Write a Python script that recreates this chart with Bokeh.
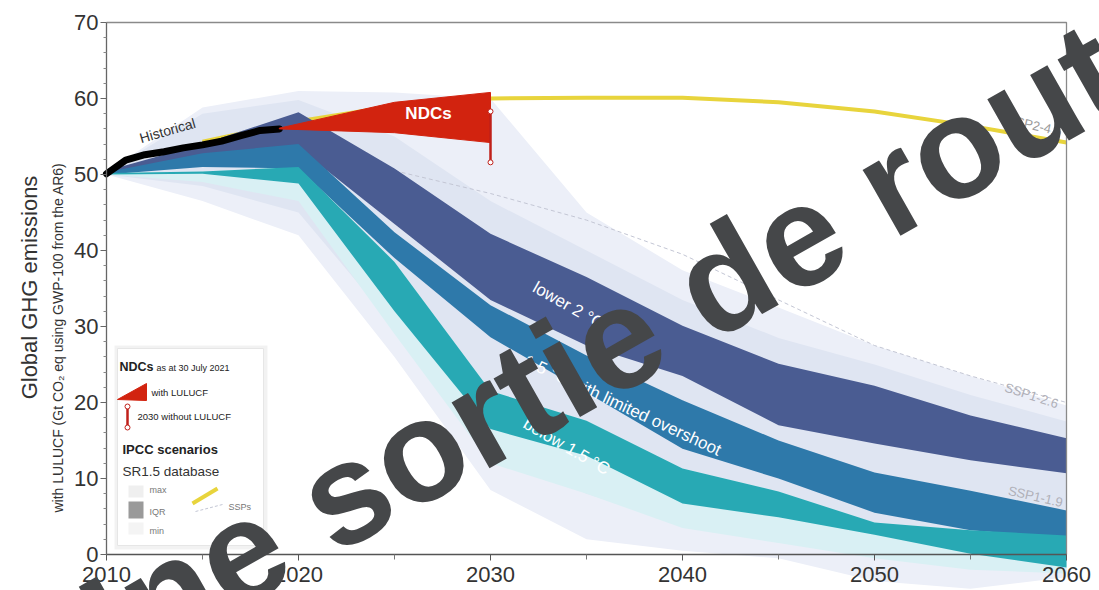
from bokeh.plotting import figure
from bokeh.models import Range1d, FixedTicker, Label
from bokeh.embed import file_html
from bokeh.resources import INLINE

# ---------------------------------------------------------------- data
years = [2010, 2015, 2020, 2025, 2030, 2035, 2040, 2045, 2050, 2055, 2060]

# whole SR1.5 pathway range (max / min)
all_max = [50.3, 58.8, 61.0, 60.8, 60.0, 45.0, 37.4, 32.5, 27.5, 23.5, 19.6]
all_min = [50.0, 46.5, 42.0, 26.0, 8.5, 2.0, 0.5, -0.5, -3.5, -4.5, -3.0]

# range of the 2 °C / limited-overshoot pathways
mid_max = [50.3, 58.0, 59.8, 55.0, 46.5, 40.0, 33.5, 28.5, 25.0, 21.0, 17.5]
mid_min = [50.0, 48.5, 45.0, 30.0, 14.0, 8.0, 4.0, 2.0, 0.0, -1.0, -1.5]

# range of the below 1.5 °C pathways (lower side)
b15_env_min = [50.0, 49.0, 46.5, 29.0, 12.0, 8.0, 3.5, 1.5, -0.5, -2.0, -2.5]

# interquartile ranges
lower2_hi = [50.5, 54.0, 58.2, 50.8, 42.2, 36.5, 30.1, 25.1, 22.2, 18.3, 15.3]
lower2_lo = [50.0, 52.3, 53.5, 43.5, 33.5, 27.5, 23.5, 17.0, 14.6, 12.4, 10.7]
lo15_hi = [50.3, 52.8, 54.0, 42.4, 32.8, 26.2, 20.3, 15.0, 10.8, 8.4, 5.8]
lo15_lo = [50.0, 51.0, 50.8, 39.0, 28.6, 21.3, 13.9, 10.0, 5.5, 3.2, 2.2]
b15_hi = [50.2, 50.4, 51.0, 38.5, 21.5, 17.6, 11.3, 8.3, 4.2, 3.2, 2.5]
b15_lo = [50.0, 50.1, 48.8, 32.0, 16.5, 13.0, 6.7, 4.9, 2.6, 0.1, -1.7]

# SSP reference scenarios
ssp_years = [2015, 2020, 2025, 2030, 2035, 2040, 2045, 2050, 2055, 2060]
ssp245 = [54.3, 57.0, 59.0, 60.0, 60.1, 60.1, 59.5, 58.3, 56.4, 54.2]
ssp126 = [53.5, 54.0, 50.5, 47.5, 44.0, 39.5, 33.5, 27.5, 23.5, 20.0]

# historical emissions
hist_years = [2010, 2011, 2012, 2013, 2014, 2015, 2016, 2017, 2018, 2019]
hist_vals = [50.1, 51.9, 52.6, 53.0, 53.5, 53.9, 54.4, 55.1, 55.8, 56.0]

# NDCs (with LULUCF) and 2030 without LULUCF
ndc_years = [2019, 2025, 2030]
ndc_hi = [56.1, 59.5, 60.8]
ndc_lo = [56.0, 55.5, 54.2]
ndc_nolu_year = 2030
ndc_nolu_hi = 58.3
ndc_nolu_lo = 51.6

x_ticks = [2010, 2020, 2030, 2040, 2050, 2060]
x_minor = [2015, 2025, 2035, 2045, 2055]
y_ticks = [0, 10, 20, 30, 40, 50, 60, 70]
y_minor = [v for v in range(0, 71, 2) if v % 10]

# ---------------------------------------------------------------- layout
W, H = 1099, 590
FL, FR, FT, FB = 106, 1066, 22, 554   # plotting box edges in pixels
X0, X1, Y0, Y1 = 2010, 2060, 0, 70


def dx(px):
    return X0 + (px - FL) * (X1 - X0) / (FR - FL)


def dy(py):
    return Y0 + (FB - py) * (Y1 - Y0) / (FB - FT)


SANS = "'Liberation Sans', Arial, sans-serif"

# the frame spans the whole canvas; axes sit at fixed data positions
p = figure(width=W, height=H, x_range=Range1d(dx(0), dx(W)), y_range=Range1d(dy(H), dy(0)),
           output_backend="svg", toolbar_location=None,
           min_border_left=0, min_border_right=0, min_border_top=0, min_border_bottom=0)
p.grid.visible = False
p.background_fill_color = "white"
p.border_fill_color = "white"
p.outline_line_color = None

xa = p.xaxis[0]
xa.fixed_location = Y0
xa.bounds = (X0, X1)
xa.ticker = FixedTicker(ticks=x_ticks, minor_ticks=x_minor)
xa.major_label_text_font = SANS
xa.major_label_text_font_size = "22px"
xa.major_label_text_color = "#333333"
xa.major_label_standoff = 6
xa.major_tick_out = 6
xa.major_tick_in = 0
xa.minor_tick_out = 5
xa.minor_tick_in = 0
xa.axis_line_color = "#555555"
xa.axis_line_width = 1.5
xa.major_tick_line_color = "#555555"
xa.minor_tick_line_color = "#777777"

ya = p.yaxis[0]
ya.fixed_location = X0
ya.bounds = (Y0, Y1)
ya.ticker = FixedTicker(ticks=y_ticks, minor_ticks=y_minor)
ya.major_label_text_font = SANS
ya.major_label_text_font_size = "22px"
ya.major_label_text_color = "#333333"
ya.major_label_standoff = 2
ya.major_tick_out = 6
ya.major_tick_in = 0
ya.minor_tick_out = 3
ya.minor_tick_in = 0
ya.axis_line_color = "#666666"
ya.axis_line_width = 1.3
ya.major_tick_line_color = "#666666"
ya.minor_tick_line_color = "#888888"

# ---------------------------------------------------------------- envelopes
p.varea(x=years, y1=all_min, y2=all_max, fill_color="#eceff8")
p.varea(x=years, y1=mid_min, y2=mid_max, fill_color="#dfe5f2")
p.varea(x=years, y1=b15_env_min, y2=b15_hi, fill_color="#d9f0f4")

p.line(ssp_years, ssp126, line_color="#c3c6d4", line_width=1, line_dash="4 3")
p.line(ssp_years, ssp245, line_color="#e8d43c", line_width=4)

# interquartile bands
p.varea(x=years, y1=lower2_lo, y2=lower2_hi, fill_color="#4a5c92")
p.varea(x=years, y1=lo15_lo, y2=lo15_hi, fill_color="#2e79aa")
p.varea(x=years, y1=b15_lo, y2=b15_hi, fill_color="#28a9b4")

# frame border on top and right
p.line([X0, X1, X1], [Y1, Y1, Y0], line_color="#8a8a8a", line_width=1.3)

# historical emissions
p.line(hist_years, hist_vals, line_color="black", line_width=7, line_cap="round",
       line_join="round")

# NDC wedge and the 2030 value without LULUCF
p.patch(ndc_years + ndc_years[::-1], ndc_hi + ndc_lo[::-1],
        fill_color="#d2230f", line_color="#d2230f", line_width=1)
p.segment(x0=[ndc_nolu_year], y0=[ndc_nolu_lo], x1=[ndc_nolu_year], y1=[ndc_nolu_hi],
          line_color="#c0201a", line_width=2.5)
p.scatter([ndc_nolu_year, ndc_nolu_year], [ndc_nolu_lo, ndc_nolu_hi], size=5,
          fill_color="white", line_color="#c0201a", line_width=1)

# ---------------------------------------------------------------- legend box
p.quad(left=[dx(114)], right=[dx(267)], top=[dy(345)], bottom=[dy(549)],
       fill_color="black", fill_alpha=0.05, line_color=None)
p.quad(left=[dx(117)], right=[dx(263)], top=[dy(348)], bottom=[dy(545)],
       fill_color="white", line_color="#e6e6e6", line_width=1)
p.patch([dx(117), dx(146), dx(146)], [dy(399), dy(383), dy(400)],
        fill_color="#d2230f", line_color="#d2230f")
p.segment(x0=[dx(127)], y0=[dy(406)], x1=[dx(127)], y1=[dy(427)],
          line_color="#c0201a", line_width=2.5)
p.scatter([dx(127), dx(127)], [dy(406), dy(427)], size=5,
          fill_color="white", line_color="#c0201a", line_width=1)
p.quad(left=[dx(128)], right=[dx(143)], top=[dy(485)], bottom=[dy(497)],
       fill_color="#efefef", line_color=None)
p.quad(left=[dx(128)], right=[dx(143)], top=[dy(501)], bottom=[dy(518)],
       fill_color="#9a9a9a", line_color=None)
p.quad(left=[dx(128)], right=[dx(143)], top=[dy(522)], bottom=[dy(534)],
       fill_color="#f4f4f4", line_color=None)
p.line([dx(192), dx(217)], [dy(503), dy(488)], line_color="#e8d43c", line_width=4)
p.line([dx(195), dx(222)], [dy(511), dy(504)], line_color="#c3c6d4", line_width=1,
       line_dash="3 2")


def label(px, py, text, size, color="#222222", font=SANS, style="normal",
          angle=0.0, align="left", baseline="middle"):
    p.add_layout(Label(x=dx(px), y=dy(py), text=text, text_font=font,
                       text_font_size=f"{size}px", text_font_style=style,
                       text_color=color, angle=angle, angle_units="deg",
                       text_align=align, text_baseline=baseline))


# legend texts
label(119, 366, "NDCs", 12.5, style="bold")
label(156, 367, "as at 30 July 2021", 9)
label(151, 392, "with LULUCF", 9.5)
label(137, 416, "2030 without LULUCF", 9.5)
label(122, 449, "IPCC scenarios", 13, style="bold")
label(122, 471, "SR1.5 database", 13.5, color="#333333")
label(149, 489, "max", 9, color="#777777")
label(149, 511, "IQR", 9, color="#777777")
label(149, 530, "min", 9, color="#777777")
label(228, 506, "SSPs", 9, color="#777777")

# labels in the chart
label(428, 113, "NDCs", 17, color="white", style="bold", align="center")
label(167, 130, "Historical", 14, color="#333333", angle=16, align="center")
label(568, 305, "lower 2 °C", 17, color="white", angle=-29.5, align="center")
label(622, 405, "1.5 °C with limited overshoot", 17, color="white",
      angle=-25, align="center")
label(566, 446, "below 1.5 °C", 17, color="white", angle=-30, align="center")
label(1034, 125, "SSP2-4.5", 13, color="#9a9a9a", angle=-13, align="center")
label(1031, 395, "SSP1-2.6", 13, color="#b0b0b8", angle=-18, align="center")
label(1035, 496, "SSP1-1.9", 13, color="#b0b0b8", angle=-13, align="center")

# y-axis title (two lines of different size)
label(29, 287, "Global GHG emissions", 22, color="#333333", angle=90, align="center")
label(57, 337, "with LULUCF (Gt CO₂ eq using GWP-100 from the AR6)", 14,
      color="#333333", angle=90, align="center")

# overlay banner across the chart
label(38, 666, "Une sortie de route", 144, color="#454749", style="bold",
      angle=29.5, baseline="alphabetic")

open("out.html", "w").write(file_html(p, INLINE))
